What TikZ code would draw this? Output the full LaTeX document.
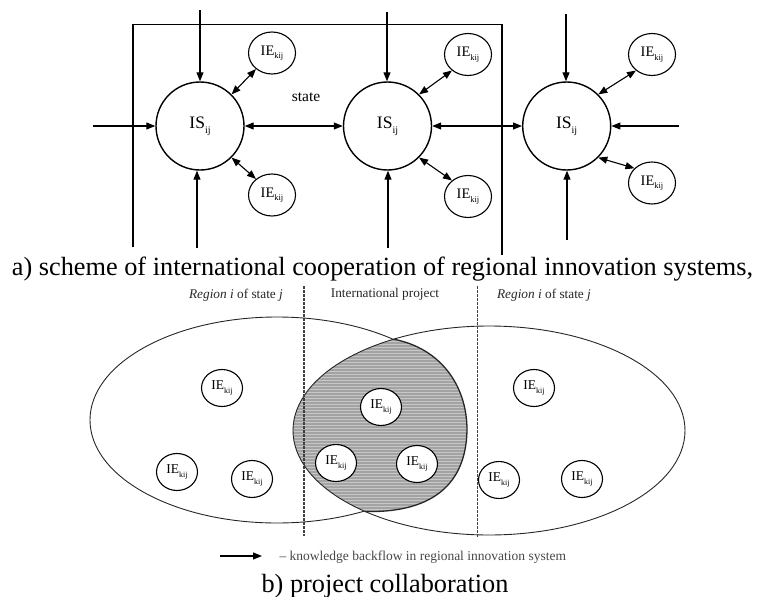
\documentclass[tikz,border=0pt]{standalone}
\usepackage{fontspec}
\setmainfont{Liberation Serif}
\usetikzlibrary{arrows.meta,shapes.geometric,patterns}
\newcommand{\IEk}{\fontsize{14.5}{14.5}\selectfont IE\raisebox{-0.25em}{\fontsize{8.5}{8.5}\selectfont kij}}
\newcommand{\IEkk}{\fontsize{13.5}{13.5}\selectfont IE\raisebox{-0.25em}{\fontsize{8}{8}\selectfont kij}}
\newcommand{\ISij}{\fontsize{17.5}{17.5}\selectfont IS\raisebox{-0.28em}{\fontsize{10}{10}\selectfont ij}}
\begin{document}
\begin{tikzpicture}[x=1pt,y=-1pt,
  isnode/.style={circle,draw,line width=1.4pt,minimum size=88pt,inner sep=0pt},
  ienode/.style={ellipse,draw,line width=1.1pt,minimum width=47pt,minimum height=42pt,inner sep=0pt,fill=white},
  ienodeb/.style={ellipse,draw,line width=1.1pt,minimum width=41pt,minimum height=37pt,inner sep=0pt,fill=white},
  arr/.style={line width=1.1pt,-{Triangle[length=9pt,width=7pt]}},
  darr/.style={line width=1.1pt,{Triangle[length=9pt,width=7pt]}-{Triangle[length=9pt,width=7pt]}},
  frame/.style={line width=1.1pt,line join=miter},
  region/.style={line width=0.9pt,draw=black!85},
  dashline/.style={line width=1.2pt,dash pattern=on 2.5pt off 1.5pt,draw=black!75},
  lbl/.style={font=\fontsize{13.3}{14}\selectfont,text=black!85,anchor=base}
]
\useasboundingbox (0,0) rectangle (763,597);

% ---------- part a ----------
\coordinate (r1) at (133,247);
\coordinate (r2) at (133,24.5);
\coordinate (r3) at (502,24.5);
\coordinate (r4) at (502,255);
\draw[frame] (r1) -- (r2) -- (r3) -- (r4);

\node[isnode] (C1) at (200,126) {\ISij};
\node[isnode] (C2) at (387.5,126) {\ISij};
\node[isnode] (C3) at (566.7,126) {\ISij};

\node[ienode] (E1a) at (272,53) {\IEk};
\node[ienode] (E1b) at (272,195) {\IEk};
\node[ienode] (E2a) at (468,54.5) {\IEk};
\node[ienode] (E2b) at (468,196.5) {\IEk};
\node[ienode] (E3a) at (652,54.5) {\IEk};
\node[ienode] (E3b) at (652,183) {\IEk};

\node (st) at (306,97) {\fontsize{15.5}{15.5}\selectfont state};

\coordinate (t1) at (200,10);
\coordinate (b1) at (197,248);
\coordinate (l1) at (93,126);
\coordinate (t2) at (387,12);
\coordinate (b2) at (388,248);
\coordinate (t3) at (566,14);
\coordinate (b3) at (567,240);
\coordinate (rr3) at (679,126);

\draw[arr] (t1) -- (t1 |- C1.north);
\draw[arr] (b1) -- (b1 |- C1.south);
\draw[arr] (l1) -- (C1);
\draw[arr] (t2) -- (t2 |- C2.north);
\draw[arr] (b2) -- (b2 |- C2.south);
\draw[arr] (t3) -- (t3 |- C3.north);
\draw[arr] (b3) -- (b3 |- C3.south);
\draw[arr] (rr3) -- (C3);

\draw[darr] (C1) -- (C2);
\draw[darr] (C2) -- (C3);
\draw[darr] (C1.45) -- (E1a.225);
\draw[darr] (C1.-45) -- (E1b.135);
\draw[darr] (C2.45) -- (E2a.225);
\draw[darr] (C2.-45) -- (E2b.135);
\draw[darr] (C3.45) -- (E3a.225);
\draw[darr] (C3.-45) -- (E3b.140);

\node[anchor=base] (capa) at (382.5,275) {\fontsize{26.3}{28}\selectfont a) scheme of international cooperation of regional innovation systems,};

% ---------- part b ----------
\node[lbl] (lab1) at (236,298) {\textit{Region i} of state \textit{j}};
\node[lbl] (lab2) at (385,297) {International project};
\node[lbl] (lab3) at (544,298) {\textit{Region i} of state \textit{j}};

\draw[region] (277,420) ellipse [x radius=187pt, y radius=103pt];

\begin{scope}
  \clip (489,430.5) ellipse [x radius=196pt, y radius=104.5pt];
  \fill[black!36] (393.5,339.2) .. controls (440,348) and (467,385) .. (467,430)
     .. controls (466,490) and (425,513) .. (365,511.5) -- (250,560) -- (250,300) -- cycle;
  \fill[pattern=horizontal lines, pattern color=black!22] (393.5,339.2) .. controls (440,348) and (467,385) .. (467,430)
     .. controls (466,490) and (425,513) .. (365,511.5) -- (250,560) -- (250,300) -- cycle;
\end{scope}

\draw[region] (489,430.5) ellipse [x radius=196pt, y radius=104.5pt];
\draw[line width=1.3pt,draw=black!85] (393.5,339.2) .. controls (440,348) and (467,385) .. (467,430)
     .. controls (466,490) and (425,513) .. (365,511.5);

\coordinate (d1a) at (304,286);
\coordinate (d1b) at (304,536);
\coordinate (d2a) at (477.5,286);
\coordinate (d2b) at (477.5,537);
\draw[dashline] (d1a) -- (d1b);
\draw[dashline] (d2a) -- (d2b);

\node[ienodeb] (F1) at (222,388) {\IEkk};
\node[ienodeb] (F2) at (177,472) {\IEkk};
\node[ienodeb] (F3) at (252,479) {\IEkk};
\node[ienodeb] (G1) at (381,407) {\IEkk};
\node[ienodeb] (G2) at (336,463) {\IEkk};
\node[ienodeb] (G3) at (417,464) {\IEkk};
\node[ienodeb] (H1) at (534,388) {\IEkk};
\node[ienodeb] (H2) at (499,480) {\IEkk};
\node[ienodeb] (H3) at (582,479) {\IEkk};

\coordinate (la) at (220,556);
\coordinate (lb) at (262,556);
\draw[arr] (la) -- (lb);
\node[anchor=base west,text=black!72] (legt) at (276,560) {\fontsize{13.5}{14}\selectfont – knowledge backflow in regional innovation system};

\node[anchor=base] (capb) at (385,592) {\fontsize{26.3}{28}\selectfont b) project collaboration};
\end{tikzpicture}
\end{document}
